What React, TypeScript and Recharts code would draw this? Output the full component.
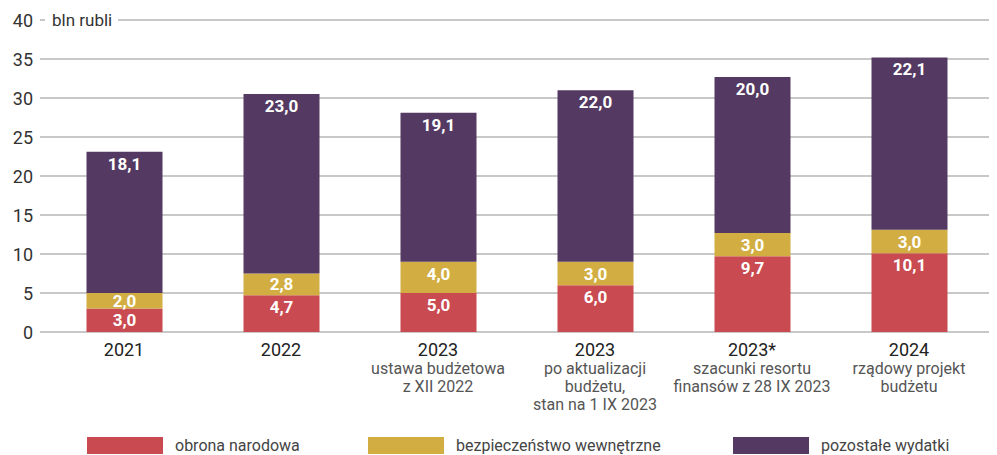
import React from 'react';
import { BarChart, Bar, XAxis, YAxis, CartesianGrid, LabelList } from 'recharts';

const categories = ['2021', '2022', '2023', '2023', '2023*', '2024'];
const subtitles: string[][] = [
  [],
  [],
  ['ustawa budżetowa', 'z XII 2022'],
  ['po aktualizacji', 'budżetu,', 'stan na 1 IX 2023'],
  ['szacunki resortu', 'finansów z 28 IX 2023'],
  ['rządowy projekt', 'budżetu'],
];
const obronaNarodowa = [3.0, 4.7, 5.0, 6.0, 9.7, 10.1];
const bezpieczenstwo = [2.0, 2.8, 4.0, 3.0, 3.0, 3.0];
const pozostale = [18.1, 23.0, 19.1, 22.0, 20.0, 22.1];
const yTicks = [0, 5, 10, 15, 20, 25, 30, 35, 40];
const unitLabel = 'bln rubli';

const series = [
  { key: 'obrona', name: 'obrona narodowa', color: '#c94a50', values: obronaNarodowa },
  { key: 'bezp', name: 'bezpieczeństwo wewnętrzne', color: '#d2ae42', values: bezpieczenstwo },
  { key: 'poz', name: 'pozostałe wydatki', color: '#543a62', values: pozostale },
];

const data = categories.map((c, i) => {
  const row: any = { idx: i, cat: c };
  series.forEach((s) => (row[s.key] = s.values[i]));
  return row;
});

const FONT = 'Roboto, "Noto Sans", sans-serif';

const fmt = (v: number) => v.toFixed(1).replace('.', ',');

const BarLabel = (props: any) => {
  const { x, y, width, height, value } = props;
  const cy = y + Math.min(12, height / 2);
  return (
    <text
      x={x + width / 2}
      y={cy}
      textAnchor="middle"
      dominantBaseline="central"
      fill="#ffffff"
      fontFamily={FONT}
      fontWeight={700}
      fontSize={17}
    >
      {fmt(value)}
    </text>
  );
};

const XTick = (props: any) => {
  const { x, y, payload } = props;
  const i = payload.value as number;
  return (
    <g>
      <text x={x} y={y + 24} textAnchor="middle" fill="#222" fontFamily={FONT} fontSize={18}>
        {categories[i]}
      </text>
      {subtitles[i].map((line, k) => (
        <text key={k} x={x} y={y + 42 + k * 18} textAnchor="middle" fill="#555" fontFamily={FONT} fontSize={16}>
          {line}
        </text>
      ))}
    </g>
  );
};

const YTick = (props: any) => {
  const { x, y, payload } = props;
  const v = payload.value as number;
  return (
    <g>
      <text x={x} y={y} textAnchor="end" dominantBaseline="central" fill="#333" fontFamily={FONT} fontSize={18}>
        {v}
      </text>
      {v === 40 && (
        <g>
          <rect x={45} y={y - 4} width={73} height={8} fill="#ffffff" />
          <text x={52} y={y} dominantBaseline="central" fill="#333" fontFamily={FONT} fontSize={17}>
            {unitLabel}
          </text>
        </g>
      )}
    </g>
  );
};

const legendX = [87, 368, 733];

export default function App() {
  return (
    <div style={{ position: 'relative', width: 997, height: 455, margin: '-8px 0 0 -8px', background: '#fff' }}>
      <BarChart
        width={997}
        height={455}
        data={data}
        margin={{ top: 20, right: 0, bottom: 23, left: 0 }}
        barSize={76}
      >
        <CartesianGrid horizontal vertical={false} stroke="#c8c8c8" strokeWidth={2} />
        <XAxis
          dataKey="idx"
          type="category"
          height={100}
          axisLine={false}
          tickLine={false}
          tickSize={0}
          tickMargin={0}
          padding={{ left: 5.5, right: 9.5 }}
          interval={0}
          tick={<XTick />}
        />
        <YAxis
          width={40}
          domain={[0, 40]}
          ticks={yTicks}
          axisLine={false}
          tickLine={false}
          tickSize={0}
          tickMargin={7}
          interval={0}
          tick={<YTick />}
        />
        {series.map((s) => (
          <Bar key={s.key} dataKey={s.key} name={s.name} stackId="a" fill={s.color} isAnimationActive={false}>
            <LabelList dataKey={s.key} content={<BarLabel />} />
          </Bar>
        ))}
      </BarChart>
      {series.map((s, i) => (
        <div
          key={s.key}
          style={{
            position: 'absolute',
            left: legendX[i],
            top: 437,
            display: 'flex',
            alignItems: 'center',
            height: 17,
            fontFamily: FONT,
            fontSize: 16,
            color: '#444',
            whiteSpace: 'nowrap',
          }}
        >
          <div style={{ width: 76, height: 17, background: s.color, marginRight: 12 }} />
          <span>{s.name}</span>
        </div>
      ))}
    </div>
  );
}
